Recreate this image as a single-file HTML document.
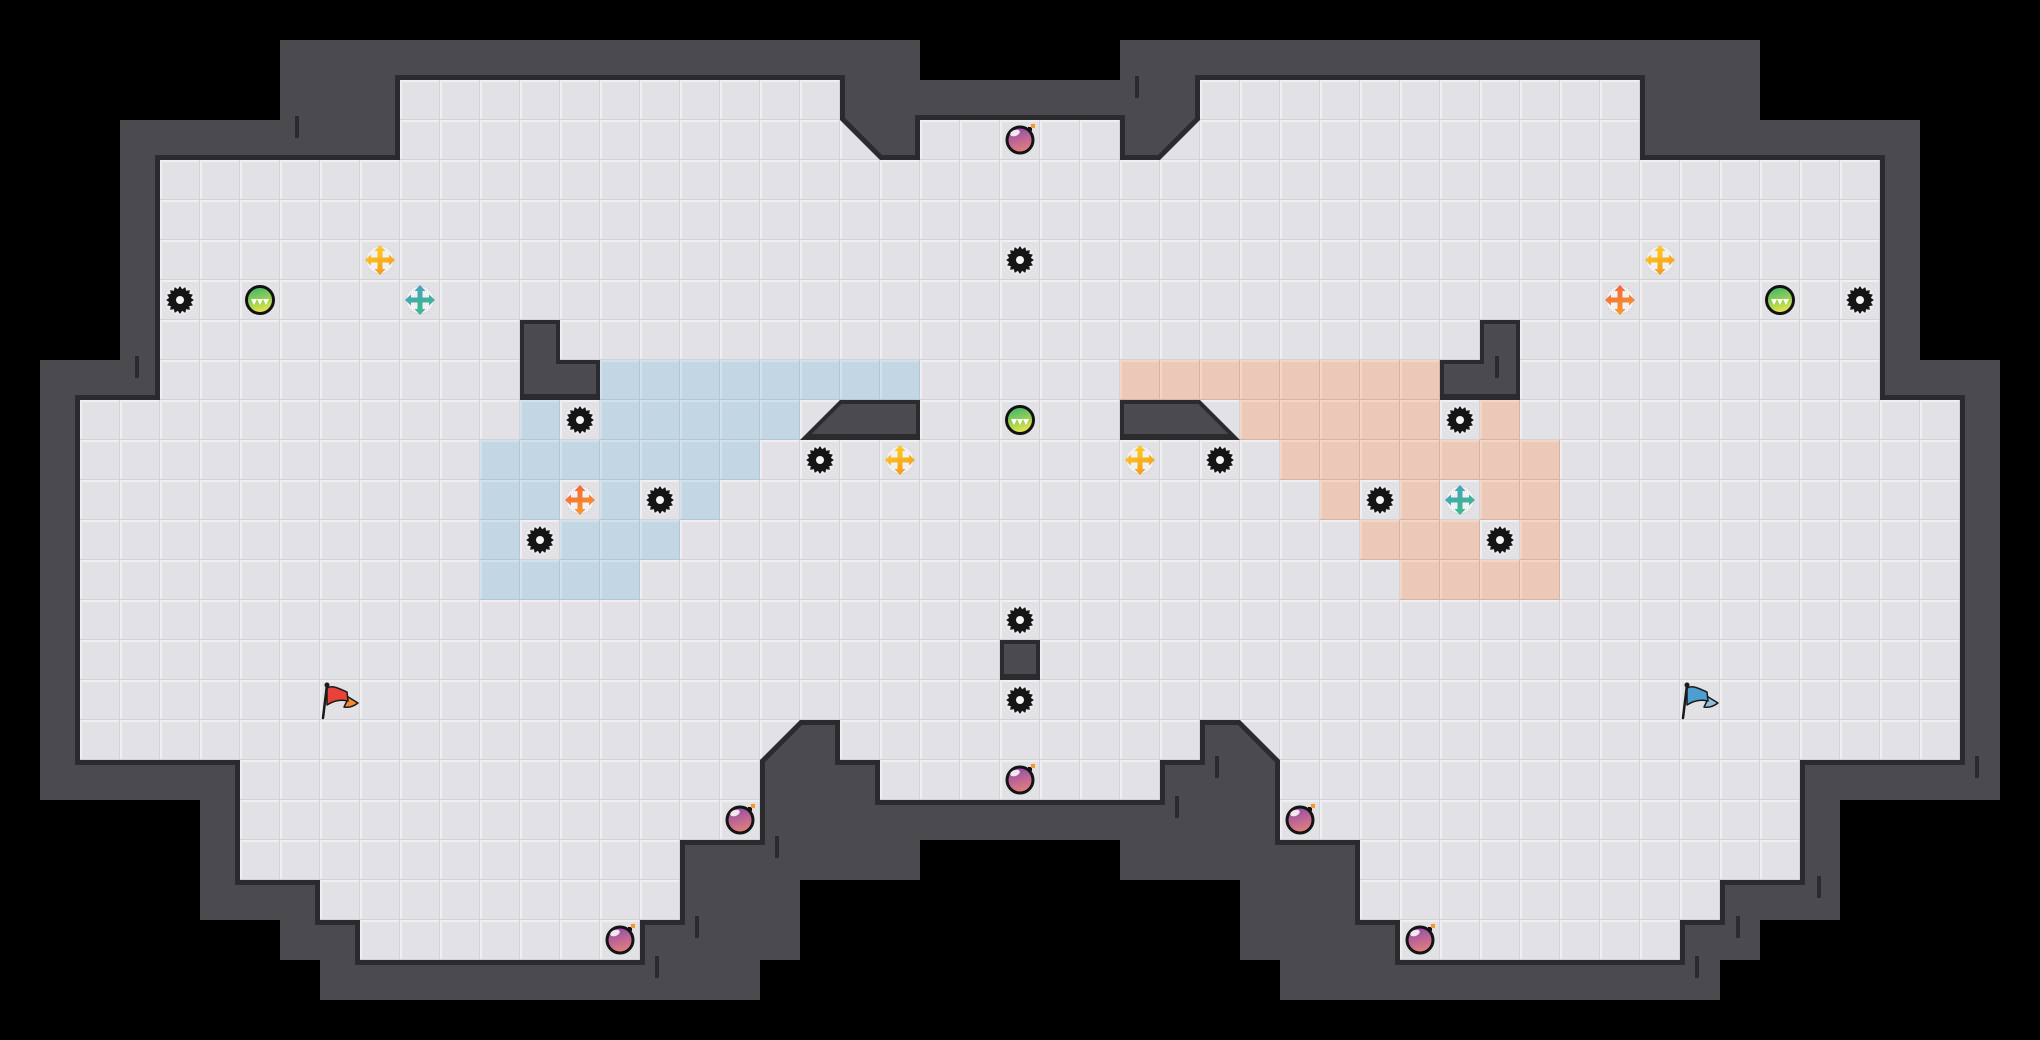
<!DOCTYPE html>
<html>
<head>
<meta charset="utf-8">
<style>
html,body{margin:0;padding:0;background:#000;width:2040px;height:1040px;overflow:hidden;}
svg{display:block;}
</style>
</head>
<body>
<svg width="2040" height="1040" viewBox="0 0 2040 1040" xmlns="http://www.w3.org/2000/svg">
<defs>
  <pattern id="pf" width="40" height="40" patternUnits="userSpaceOnUse">
    <rect width="40" height="40" fill="#d2d2d7"/>
    <rect width="39" height="39" fill="#efeff2"/>
    <rect x="2" y="2" width="37" height="37" fill="#e2e2e6"/>
  </pattern>
  <pattern id="pb" width="40" height="40" patternUnits="userSpaceOnUse">
    <rect width="40" height="40" fill="#b2c6d6"/>
    <rect width="39" height="39" fill="#d2e1ec"/>
    <rect x="2" y="2" width="37" height="37" fill="#c3d6e4"/>
  </pattern>
  <pattern id="po" width="40" height="40" patternUnits="userSpaceOnUse">
    <rect width="40" height="40" fill="#d9b3a1"/>
    <rect width="39" height="39" fill="#f3d6c8"/>
    <rect x="2" y="2" width="37" height="37" fill="#ebc8b7"/>
  </pattern>
  <linearGradient id="gg" x1="0" y1="0" x2="0.3" y2="1">
    <stop offset="0" stop-color="#2fb270"/>
    <stop offset="0.55" stop-color="#8ccd55"/>
    <stop offset="1" stop-color="#e2e34a"/>
  </linearGradient>
  <linearGradient id="gb" x1="0" y1="0" x2="0.3" y2="1">
    <stop offset="0" stop-color="#8a47b0"/>
    <stop offset="1" stop-color="#e07c7e"/>
  </linearGradient>
  <linearGradient id="gy" x1="0" y1="0" x2="0.4" y2="1">
    <stop offset="0" stop-color="#ffd726"/>
    <stop offset="1" stop-color="#f89b1c"/>
  </linearGradient>
  <linearGradient id="gt" x1="0" y1="0" x2="0.4" y2="1">
    <stop offset="0" stop-color="#4a9dc6"/>
    <stop offset="1" stop-color="#3cbb8c"/>
  </linearGradient>
  <linearGradient id="go" x1="0" y1="0" x2="0.4" y2="1">
    <stop offset="0" stop-color="#f25f3c"/>
    <stop offset="1" stop-color="#f8962c"/>
  </linearGradient>
  <g id="gear">
    <circle r="15" fill="#f2f2f4" opacity="0.5"/>
    <polygon fill="#151515" points="14,0 10.79,2.15 12.93,5.36 9.15,6.11 9.9,9.9 6.11,9.15 5.36,12.93 2.15,10.79 0,14 -2.15,10.79 -5.36,12.93 -6.11,9.15 -9.9,9.9 -9.15,6.11 -12.93,5.36 -10.79,2.15 -14,0 -10.79,-2.15 -12.93,-5.36 -9.15,-6.11 -9.9,-9.9 -6.11,-9.15 -5.36,-12.93 -2.15,-10.79 0,-14 2.15,-10.79 5.36,-12.93 6.11,-9.15 9.9,-9.9 9.15,-6.11 12.93,-5.36 10.79,-2.15"/>
    <circle r="4" fill="#f4f4f4"/>
  </g>
  <g id="ball">
    <circle r="13.5" fill="url(#gg)" stroke="#111" stroke-width="3"/>
    <polygon fill="#fff" points="-9,-1 -3,-1 -6,5"/>
    <polygon fill="#fff" points="-3,-1 3,-1 0,5"/>
    <polygon fill="#fff" points="3,-1 9,-1 6,5"/>
  </g>
  <g id="bomb">
    <circle r="13" fill="url(#gb)" stroke="#141414" stroke-width="3"/>
    <ellipse cx="-5" cy="-7" rx="5" ry="3" fill="#fff" opacity="0.85" transform="rotate(-20 -5 -7)"/>
    <rect x="8" y="-13" width="4" height="4" fill="#141414"/>
    <rect x="11" y="-16" width="4" height="4" fill="#f49a2c"/>
  </g>
  <path id="cross" d="M0,-15 L5.5,-9 L2.5,-9 L2.5,-2.5 L9,-2.5 L9,-5.5 L15,0 L9,5.5 L9,2.5 L2.5,2.5 L2.5,9 L5.5,9 L0,15 L-5.5,9 L-2.5,9 L-2.5,2.5 L-9,2.5 L-9,5.5 L-15,0 L-9,-5.5 L-9,-2.5 L-2.5,-2.5 L-2.5,-9 L-5.5,-9 Z"/>
  <circle id="halo" r="14" fill="#f4f4f6" stroke="#d6d6da" stroke-width="1" opacity="0.85"/>
</defs>

<rect width="2040" height="1040" fill="#000"/>

<!-- outer walls -->
<g fill="#4a4a4f">
  <rect x="280" y="40" width="640" height="40"/>
  <rect x="1120" y="40" width="640" height="40"/>
  <rect x="280" y="80" width="120" height="40"/>
  <rect x="840" y="80" width="360" height="40"/>
  <rect x="1640" y="80" width="120" height="40"/>
  <rect x="120" y="120" width="280" height="40"/>
  <rect x="840" y="120" width="80" height="40"/>
  <rect x="1120" y="120" width="80" height="40"/>
  <rect x="1640" y="120" width="280" height="40"/>
  <rect x="120" y="160" width="40" height="200"/>
  <rect x="1880" y="160" width="40" height="200"/>
  <rect x="40" y="360" width="120" height="40"/>
  <rect x="1880" y="360" width="120" height="40"/>
  <rect x="40" y="400" width="40" height="360"/>
  <rect x="1960" y="400" width="40" height="360"/>
  <rect x="760" y="720" width="80" height="40"/>
  <rect x="1200" y="720" width="80" height="40"/>
  <rect x="40" y="760" width="200" height="40"/>
  <rect x="760" y="760" width="120" height="40"/>
  <rect x="1160" y="760" width="120" height="40"/>
  <rect x="1800" y="760" width="200" height="40"/>
  <rect x="200" y="800" width="40" height="40"/>
  <rect x="760" y="800" width="520" height="40"/>
  <rect x="1800" y="800" width="40" height="40"/>
  <rect x="200" y="840" width="40" height="40"/>
  <rect x="680" y="840" width="240" height="40"/>
  <rect x="1120" y="840" width="240" height="40"/>
  <rect x="1800" y="840" width="40" height="40"/>
  <rect x="200" y="880" width="120" height="40"/>
  <rect x="680" y="880" width="120" height="40"/>
  <rect x="1240" y="880" width="120" height="40"/>
  <rect x="1720" y="880" width="120" height="40"/>
  <rect x="280" y="920" width="80" height="40"/>
  <rect x="640" y="920" width="160" height="40"/>
  <rect x="1240" y="920" width="160" height="40"/>
  <rect x="1680" y="920" width="80" height="40"/>
  <rect x="320" y="960" width="440" height="40"/>
  <rect x="1280" y="960" width="440" height="40"/>
</g>

<!-- dark edges (expanded floor) -->
<g fill="#2b2b2f">
  <rect x="395" y="75" width="450" height="50"/>
  <rect x="1195" y="75" width="450" height="50"/>
  <rect x="395" y="115" width="450" height="50"/>
  <rect x="915" y="115" width="210" height="50"/>
  <rect x="1195" y="115" width="450" height="50"/>
  <rect x="155" y="155" width="1730" height="250"/>
  <rect x="75" y="395" width="1890" height="330"/>
  <rect x="75" y="715" width="690" height="50"/>
  <rect x="835" y="715" width="370" height="50"/>
  <rect x="1275" y="715" width="690" height="50"/>
  <rect x="235" y="755" width="530" height="50"/>
  <rect x="875" y="755" width="290" height="50"/>
  <rect x="1275" y="755" width="530" height="50"/>
  <rect x="235" y="795" width="530" height="50"/>
  <rect x="1275" y="795" width="530" height="50"/>
  <rect x="235" y="835" width="450" height="50"/>
  <rect x="1355" y="835" width="450" height="50"/>
  <rect x="315" y="875" width="370" height="50"/>
  <rect x="1355" y="875" width="370" height="50"/>
  <rect x="355" y="915" width="290" height="50"/>
  <rect x="1395" y="915" width="290" height="50"/>
</g>
<g fill="#2b2b2f" stroke="#2b2b2f" stroke-width="10" stroke-linejoin="round">
  <polygon points="840,120 840,160 880,160"/>
  <polygon points="1200,120 1200,160 1160,160"/>
  <polygon points="760,720 800,720 760,760"/>
  <polygon points="1240,720 1280,720 1280,760"/>
</g>

<!-- floor -->
<g fill="url(#pf)">
  <rect x="400" y="80" width="440" height="40"/>
  <rect x="1200" y="80" width="440" height="40"/>
  <rect x="400" y="120" width="440" height="40"/>
  <rect x="920" y="120" width="200" height="40"/>
  <rect x="1200" y="120" width="440" height="40"/>
  <rect x="160" y="160" width="1720" height="240"/>
  <rect x="80" y="400" width="1880" height="320"/>
  <rect x="80" y="720" width="680" height="40"/>
  <rect x="840" y="720" width="360" height="40"/>
  <rect x="1280" y="720" width="680" height="40"/>
  <rect x="240" y="760" width="520" height="40"/>
  <rect x="880" y="760" width="280" height="40"/>
  <rect x="1280" y="760" width="520" height="40"/>
  <rect x="240" y="800" width="520" height="40"/>
  <rect x="1280" y="800" width="520" height="40"/>
  <rect x="240" y="840" width="440" height="40"/>
  <rect x="1360" y="840" width="440" height="40"/>
  <rect x="320" y="880" width="360" height="40"/>
  <rect x="1360" y="880" width="360" height="40"/>
  <rect x="360" y="920" width="280" height="40"/>
  <rect x="1400" y="920" width="280" height="40"/>
  <polygon points="840,120 840,160 880,160"/>
  <polygon points="1200,120 1200,160 1160,160"/>
  <polygon points="760,720 800,720 760,760"/>
  <polygon points="1240,720 1280,720 1280,760"/>
</g>

<!-- blue zone -->
<g fill="url(#pb)">
  <rect x="600" y="360" width="320" height="40"/>
  <rect x="520" y="400" width="40" height="40"/>
  <rect x="600" y="400" width="200" height="40"/>
  <rect x="480" y="440" width="280" height="40"/>
  <rect x="480" y="480" width="80" height="40"/>
  <rect x="600" y="480" width="40" height="40"/>
  <rect x="680" y="480" width="40" height="40"/>
  <rect x="480" y="520" width="40" height="40"/>
  <rect x="560" y="520" width="120" height="40"/>
  <rect x="480" y="560" width="160" height="40"/>
</g>
<!-- orange zone -->
<g fill="url(#po)">
  <rect x="1120" y="360" width="320" height="40"/>
  <rect x="1240" y="400" width="200" height="40"/>
  <rect x="1480" y="400" width="40" height="40"/>
  <rect x="1280" y="440" width="280" height="40"/>
  <rect x="1320" y="480" width="40" height="40"/>
  <rect x="1400" y="480" width="40" height="40"/>
  <rect x="1480" y="480" width="80" height="40"/>
  <rect x="1360" y="520" width="120" height="40"/>
  <rect x="1520" y="520" width="40" height="40"/>
  <rect x="1400" y="560" width="160" height="40"/>
</g>

<!-- interior walls -->
<g fill="#2b2b2f">
  <polygon points="520,320 560,320 560,360 600,360 600,400 520,400"/>
  <polygon points="1480,320 1520,320 1520,400 1440,400 1440,360 1480,360"/>
  <polygon points="800,440 840,400 920,400 920,440"/>
  <polygon points="1120,400 1200,400 1240,440 1120,440"/>
  <rect x="1000" y="640" width="40" height="40"/>
</g>
<g fill="#4a4a4f">
  <polygon points="524,324 556,324 556,364 596,364 596,394 524,394"/>
  <polygon points="1484,324 1516,324 1516,394 1444,394 1444,364 1484,364"/>
  <polygon points="811.7,434 841.7,404 916,404 916,434"/>
  <polygon points="1124,404 1198.3,404 1228.3,434 1124,434"/>
  <rect x="1004" y="644" width="32" height="30"/>
</g>

<!-- tick marks -->
<g fill="#2b2b2f">
  <rect x="295" y="116" width="4" height="22" rx="1"/>
  <rect x="135" y="356" width="4" height="22" rx="1"/>
  <rect x="1135" y="76" width="4" height="22" rx="1"/>
  <rect x="1495" y="356" width="4" height="22" rx="1"/>
  <rect x="1975" y="756" width="4" height="22" rx="1"/>
  <rect x="1817" y="876" width="4" height="22" rx="1"/>
  <rect x="1736" y="916" width="4" height="22" rx="1"/>
  <rect x="1695" y="956" width="4" height="22" rx="1"/>
  <rect x="1215" y="756" width="4" height="22" rx="1"/>
  <rect x="1175" y="796" width="4" height="22" rx="1"/>
  <rect x="775" y="836" width="4" height="22" rx="1"/>
  <rect x="695" y="916" width="4" height="22" rx="1"/>
  <rect x="655" y="956" width="4" height="22" rx="1"/>
</g>

<!-- gears -->
<use href="#gear" x="180" y="300"/>
<use href="#gear" x="1020" y="260"/>
<use href="#gear" x="580" y="420"/>
<use href="#gear" x="820" y="460"/>
<use href="#gear" x="660" y="500"/>
<use href="#gear" x="540" y="540"/>
<use href="#gear" x="1020" y="620"/>
<use href="#gear" x="1020" y="700"/>
<use href="#gear" x="1860" y="300"/>
<use href="#gear" x="1460" y="420"/>
<use href="#gear" x="1220" y="460"/>
<use href="#gear" x="1380" y="500"/>
<use href="#gear" x="1500" y="540"/>

<!-- green balls -->
<use href="#ball" x="260" y="300"/>
<use href="#ball" x="1020" y="420"/>
<use href="#ball" x="1780" y="300"/>

<!-- crosses -->
<use href="#halo" x="380" y="260"/><use href="#cross" x="380" y="260" fill="url(#gy)"/>
<use href="#halo" x="900" y="460"/><use href="#cross" x="900" y="460" fill="url(#gy)"/>
<use href="#halo" x="1140" y="460"/><use href="#cross" x="1140" y="460" fill="url(#gy)"/>
<use href="#halo" x="1660" y="260"/><use href="#cross" x="1660" y="260" fill="url(#gy)"/>
<use href="#halo" x="420" y="300"/><use href="#cross" x="420" y="300" fill="url(#gt)"/>
<use href="#halo" x="1460" y="500"/><use href="#cross" x="1460" y="500" fill="url(#gt)"/>
<use href="#halo" x="580" y="500"/><use href="#cross" x="580" y="500" fill="url(#go)"/>
<use href="#halo" x="1620" y="300"/><use href="#cross" x="1620" y="300" fill="url(#go)"/>

<!-- bombs -->
<use href="#bomb" x="1020" y="140"/>
<use href="#bomb" x="1020" y="780"/>
<use href="#bomb" x="740" y="820"/>
<use href="#bomb" x="1300" y="820"/>
<use href="#bomb" x="620" y="940"/>
<use href="#bomb" x="1420" y="940"/>

<!-- red flag -->
<g transform="translate(320,680)">
  <path d="M25,15 L38,23 C34,26 29,28 24,27 L27,21 Z" fill="#f28a30" stroke="#1a1a1a" stroke-width="1.5" stroke-linejoin="round"/>
  <path d="M7,8 C12,5 18,8 27,12 L28,21 C21,19 13,21 7,25 Z" fill="#e8433a" stroke="#1a1a1a" stroke-width="1.5" stroke-linejoin="round"/>
  <line x1="3" y1="38" x2="7" y2="5" stroke="#1a1a1a" stroke-width="2.5" stroke-linecap="round"/>
  <circle cx="7" cy="5" r="2.5" fill="#1a1a1a"/>
</g>
<!-- blue flag -->
<g transform="translate(1680,680)">
  <path d="M25,15 L38,23 C34,26 29,28 24,27 L27,21 Z" fill="#8fbfd8" stroke="#1a1a1a" stroke-width="1.5" stroke-linejoin="round"/>
  <path d="M7,8 C12,5 18,8 27,12 L28,21 C21,19 13,21 7,25 Z" fill="#4d9fd2" stroke="#1a1a1a" stroke-width="1.5" stroke-linejoin="round"/>
  <line x1="3" y1="38" x2="7" y2="5" stroke="#1a1a1a" stroke-width="2.5" stroke-linecap="round"/>
  <circle cx="7" cy="5" r="2.5" fill="#1a1a1a"/>
</g>
</svg>
</body>
</html>
